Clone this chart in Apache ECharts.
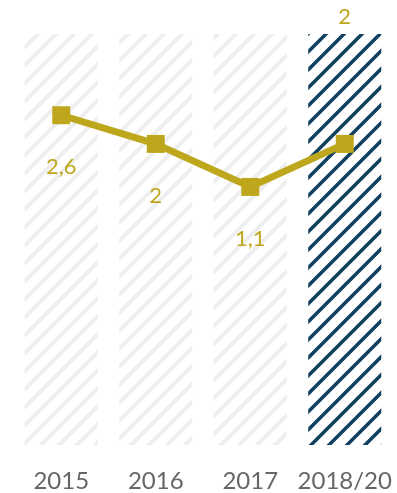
<!DOCTYPE html>
<html>
<head>
<meta charset="utf-8">
<script src="https://cdn.jsdelivr.net/npm/echarts@6/dist/echarts.min.js"></script>
<style>
  html, body { margin: 0; padding: 0; background: #fff; }
  #chart { width: 397px; height: 493px; }
</style>
</head>
<body>
<div id="chart"></div>
<script>
// data
var years = ['2015', '2016', '2017', '2018/20'];
var values = [2.6, 2, 1.1, 2];
var labels = ['2,6', '2', '1,1', '2'];
var background = [1, 1, 1, 1];   // full-height striped columns
var highlight = [false, false, false, true];

// striped fill
function hatch(color, width) {
    var size = 18;
    var c = document.createElement('canvas');
    c.width = size;
    c.height = size;
    var ctx = c.getContext('2d');
    ctx.fillStyle = '#ffffff';
    ctx.fillRect(0, 0, size, size);
    ctx.strokeStyle = color;
    ctx.lineWidth = width;
    ctx.beginPath();
    ctx.moveTo(-size, 2 * size); ctx.lineTo(2 * size, -size);
    ctx.moveTo(-size, size); ctx.lineTo(size, -size);
    ctx.moveTo(0, 2 * size); ctx.lineTo(2 * size, 0);
    ctx.stroke();
    return { image: c, repeat: 'repeat' };
}
var lightFill = hatch('#eeeeee', 4);
var darkFill = hatch('#11405f', 3.5);

var myChart = echarts.init(document.getElementById('chart'));
var option = {
    backgroundColor: '#ffffff',
    animation: false,
    grid: { left: 14, right: 5, top: 34, bottom: 47 },
    xAxis: {
        type: 'category',
        data: years,
        axisLine: { show: false },
        axisTick: { show: false },
        axisLabel: {
            interval: 0,
            color: '#666666',
            fontSize: 24,
            fontFamily: 'Lato',
            margin: 24
        }
    },
    yAxis: [{
        type: 'value', min: 0, max: 1, show: false
    }, {
        type: 'value', min: -4.3, max: 4.3, show: false
    }],
    series: [{
        type: 'bar',
        yAxisIndex: 0,
        barWidth: 73,
        data: background.map(function (v, i) {
            return {
                value: v,
                itemStyle: { color: highlight[i] ? darkFill : lightFill },
                label: {
                    show: highlight[i],
                    position: 'top',
                    distance: 6,
                    color: '#bfa71d',
                    fontSize: 22,
                    fontFamily: 'Lato',
                    formatter: function () { return labels[i]; }
                }
            };
        })
    }, {
        type: 'line',
        yAxisIndex: 1,
        data: values,
        symbol: 'rect',
        symbolSize: 18,
        lineStyle: { color: '#bfa71d', width: 7 },
        itemStyle: { color: '#bfa71d' },
        label: {
            show: true,
            position: 'bottom',
            distance: 32,
            color: '#bfa71d',
            fontSize: 22,
            fontFamily: 'Lato',
            formatter: function (p) {
                return highlight[p.dataIndex] ? '' : labels[p.dataIndex];
            }
        },
        z: 5
    }]
};
myChart.setOption(option);
</script>
</body>
</html>
